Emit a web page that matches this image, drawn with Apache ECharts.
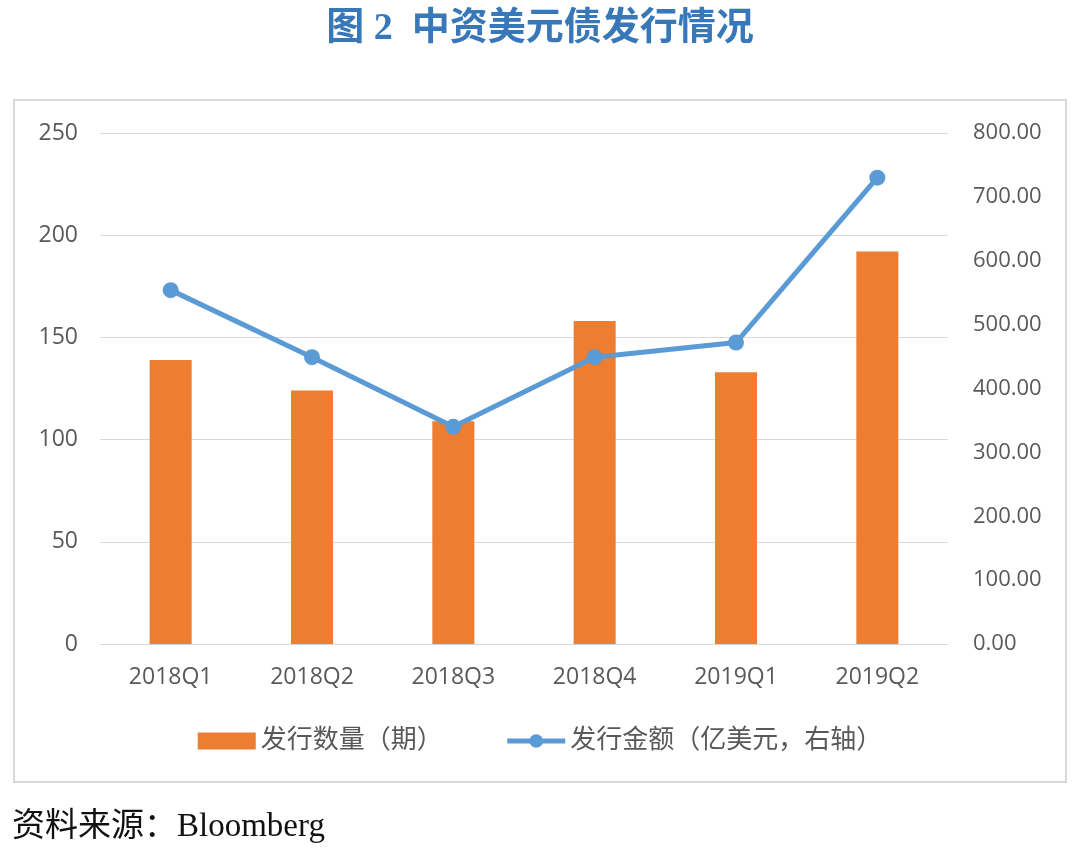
<!DOCTYPE html>
<html>
<head>
<meta charset="utf-8">
<script src="https://cdn.jsdelivr.net/npm/echarts@6/dist/echarts.min.js"></script>
<style>
html,body{margin:0;padding:0;background:#fff;}
#c{width:1080px;height:853px;}
</style>
</head>
<body>
<div id="c"></div>
<script>
const categories = ['2018Q1','2018Q2','2018Q3','2018Q4','2019Q1','2019Q2'];
const issueCount = [139, 124, 109, 158, 133, 192];
const issueAmount = [554, 449, 340, 449, 472, 730];
const leftTicks = {min: 0, max: 250, interval: 50};
const rightTicks = {min: 0, max: 800, interval: 100};
const seriesNames = ['发行数量（期）', '发行金额（亿美元，右轴）'];
const titleText = '图 2  中资美元债发行情况';
const sourceText = '资料来源：Bloomberg';

const chart = echarts.init(document.getElementById('c'), null, {renderer: 'canvas'});
const labelFont = '"Open Sans", "Noto Sans CJK SC", sans-serif';
chart.setOption({
  backgroundColor: '#ffffff',
  animation: false,
  title: {
    text: titleText,
    left: 'center',
    top: 5,
    textStyle: {
      color: '#3877b8',
      fontSize: 38,
      fontWeight: 'bold',
      fontFamily: '"Liberation Serif", "Noto Sans CJK SC", serif'
    }
  },
  graphic: [
    {
      type: 'rect',
      shape: {x: 14, y: 100, width: 1052, height: 682},
      style: {fill: 'none', stroke: '#d9d9d9', lineWidth: 2},
      z: -1
    },
    {
      type: 'text',
      left: 12,
      top: 811,
      style: {
        text: sourceText,
        fill: '#111',
        font: '33px "Liberation Serif", "Noto Sans CJK SC", serif'
      }
    }
  ],
  legend: {
    bottom: 94,
    left: 'center',
    itemGap: 62,
    itemWidth: 58,
    itemHeight: 17,
    textStyle: {color: '#595959', fontSize: 26, fontFamily: labelFont},
    data: [
      {name: seriesNames[0], icon: 'rect'},
      {name: seriesNames[1], lineStyle: {width: 5}}
    ]
  },
  grid: {left: 100, right: 132, top: 133, bottom: 209},
  xAxis: {
    type: 'category',
    data: categories,
    axisLine: {show: true, lineStyle: {color: '#d9d9d9', width: 1}},
    axisTick: {show: false},
    axisLabel: {color: '#595959', fontSize: 23, margin: 22, fontFamily: labelFont}
  },
  yAxis: [
    {
      type: 'value',
      min: leftTicks.min, max: leftTicks.max, interval: leftTicks.interval,
      axisLine: {show: false},
      axisTick: {show: false},
      splitLine: {lineStyle: {color: '#d9d9d9', width: 1}},
      axisLabel: {color: '#595959', fontSize: 23, margin: 22, fontFamily: labelFont}
    },
    {
      type: 'value',
      min: rightTicks.min, max: rightTicks.max, interval: rightTicks.interval,
      axisLine: {show: false},
      axisTick: {show: false},
      splitLine: {show: false},
      axisLabel: {
        color: '#595959', fontSize: 22, margin: 25, fontFamily: labelFont,
        formatter: v => v.toFixed(2)
      }
    }
  ],
  series: [
    {
      name: seriesNames[0],
      type: 'bar',
      data: issueCount,
      barWidth: 42,
      itemStyle: {color: '#ed7d31'},
      yAxisIndex: 0
    },
    {
      name: seriesNames[1],
      type: 'line',
      data: issueAmount,
      yAxisIndex: 1,
      symbol: 'circle',
      symbolSize: 16,
      lineStyle: {color: '#5b9bd5', width: 5},
      itemStyle: {color: '#5b9bd5'}
    }
  ]
});
</script>
</body>
</html>
